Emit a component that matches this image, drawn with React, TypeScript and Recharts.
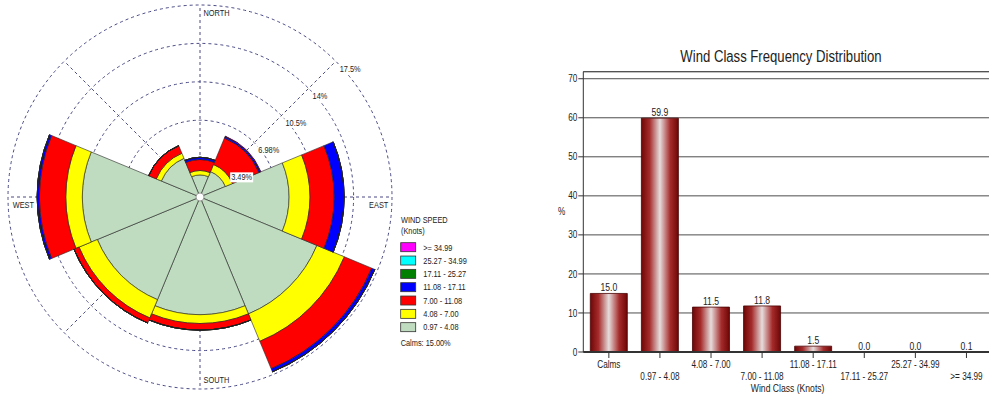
import React from 'react'
import {
  RadialBarChart,
  RadialBar,
  PolarGrid,
  PolarAngleAxis,
  PolarRadiusAxis,
  Legend,
  ComposedChart,
  Bar,
  Line,
  XAxis,
  YAxis,
  CartesianGrid,
  ReferenceLine,
  LabelList,
} from 'recharts'

// --- wind rose -----------------------------------------------------------

const directions = ['N', 'NE', 'E', 'SE', 'S', 'SW', 'W', 'NW']
const cardinalNames: Record<string, string> = { N: 'NORTH', E: 'EAST', S: 'SOUTH', W: 'WEST' }

const speedClasses = ['0.97 - 4.08', '4.08 - 7.00', '7.00 - 11.08', '11.08 - 17.11', '17.11 - 25.27', '25.27 - 34.99', '>= 34.99']
const speedColors = ['#c0dcc0', '#ffff00', '#ff0000', '#0000ff', '#008000', '#00ffff', '#ff00ff']

// % of all hours by direction (N, NE, E, SE, S, SW, W, NW) for each speed class
const speed0097 = [2.0, 2.5, 8.1, 11.5, 10.7, 10.1, 10.7, 3.8]
const speed0408 = [0.4, 0.7, 1.9, 2.7, 0.8, 1.8, 1.5, 0.5]
const speed0700 = [1.0, 2.6, 2.2, 2.7, 0.6, 0.5, 2.4, 0.75]
const speed1108 = [0.2, 0.15, 0.9, 0.3, 0, 0, 0.2, 0]
const speed1711 = [0, 0, 0, 0, 0, 0, 0, 0]
const speed2527 = [0, 0, 0, 0, 0, 0, 0, 0]
const speed3499 = [0, 0.05, 0, 0, 0, 0, 0, 0]
const speedByClass = [speed0097, speed0408, speed0700, speed1108, speed1711, speed2527, speed3499]

const ringMax = 17.45
const ringTicks = [0, 3.49, 6.98, 10.47, 13.96, 17.45]
const ringLabels = ['', '3.49%', '6.98%', '10.5%', '14%', '17.5%']

// --- class frequency -----------------------------------------------------

const windClasses = ['Calms', ...speedClasses]
const classPct = [15.0, 59.9, 11.5, 11.8, 1.5, 0.0, 0.0, 0.1]
const pctTicks = [0, 10, 20, 30, 40, 50, 60, 70]
const pctMinorTicks = [5, 15, 25, 35, 45, 55, 65]
const pctMax = 71.8

const sans = "Arial, 'Liberation Sans', sans-serif"
const squeeze = 0.82 // narrow face look

// sector width in degrees; N points up, directions run clockwise
const sectorDeg = 360 / directions.length
const dirAngle = (dir: string) => 90 - directions.indexOf(dir) * sectorDeg

const roseData = directions.map((dir, i) => {
  const row: Record<string, any> = { dir }
  speedByClass.forEach((arr, k) => {
    row['s' + k] = arr[i] > 0 ? arr[i] : null
  })
  return row
})

const classData = windClasses.map((name, i) => ({ name, pct: classPct[i] }))

function NarrowText({ x, y, size, anchor = 'start', fill = '#222', children }: any) {
  return (
    <g transform={`translate(${x},${y}) scale(${squeeze},1)`}>
      <text x={0} y={0} textAnchor={anchor} fontSize={size} fontFamily={sans} fill={fill}>
        {children}
      </text>
    </g>
  )
}

// angle-axis ticks sit on sector edges, so the cardinal names are put on the sector centres instead
function CompassTick(props: any) {
  const { cx, cy, radius, payload } = props
  const name = cardinalNames[payload.value]
  if (!name) return null
  const a = (dirAngle(payload.value) * Math.PI) / 180
  const x = cx + radius * Math.cos(a)
  const y = cy - radius * Math.sin(a)
  if (name === 'EAST') return <NarrowText x={x - 3.7} y={y + 11.3} size={9} anchor="end">{name}</NarrowText>
  if (name === 'SOUTH') return <NarrowText x={x + 3.5} y={y - 5.7} size={9}>{name}</NarrowText>
  if (name === 'WEST') return <NarrowText x={x + 4.7} y={y + 11.3} size={9}>{name}</NarrowText>
  return <NarrowText x={x + 3.5} y={y + 10.7} size={9}>{name}</NarrowText>
}

function RingTick(props: any) {
  const { x, y, payload, index } = props
  if (payload.value === 0) {
    return <circle cx={x} cy={y} r={4} fill="#fff" stroke="#888" strokeWidth={0.8} />
  }
  const label = ringLabels[index] ?? ''
  const w = label.length * 4.2 + 2
  return (
    <g>
      <rect x={x + 3} y={y + 2.5} width={w} height={10} fill="#fff" />
      <NarrowText x={x + 4} y={y + 10.5} size={9}>{label}</NarrowText>
    </g>
  )
}

function RoseLegend() {
  const step = 13.33
  const order = speedClasses.map((_, k) => k).reverse()
  return (
    <svg width={90} height={140} style={{ display: 'block' }}>
      <NarrowText x={3} y={11.3} size={9}>WIND SPEED</NarrowText>
      <NarrowText x={3} y={22} size={9}>(Knots)</NarrowText>
      {order.map((k, row) => (
        <g key={k}>
          <rect x={2.7} y={30.7 + row * step} width={15} height={9} fill={speedColors[k]} stroke="#333" strokeWidth={0.8} />
          <NarrowText x={25.3} y={38.5 + row * step} size={9}>{speedClasses[k]}</NarrowText>
        </g>
      ))}
      <NarrowText x={2.7} y={134} size={9}>{`Calms: ${classPct[0].toFixed(2)}%`}</NarrowText>
    </svg>
  )
}

function ClassTick(props: any) {
  const { x, y, payload, index } = props
  return (
    <NarrowText x={x} y={y + (index % 2 === 0 ? 8 : 20)} size={10} anchor="middle">
      {payload.value}
    </NarrowText>
  )
}

function PctTick(props: any) {
  const { x, y, payload } = props
  return <NarrowText x={x} y={y + 3.6} size={10} anchor="end">{payload.value}</NarrowText>
}

function PctAxisLabel(props: any) {
  const vb = props.viewBox
  return <NarrowText x={vb.x + 28} y={vb.y + vb.height / 2 + 3.5} size={10}>%</NarrowText>
}

function ClassAxisLabel(props: any) {
  const vb = props.viewBox
  return <NarrowText x={vb.x + vb.width / 2} y={vb.y + vb.height - 3.5} size={10.5} anchor="middle">Wind Class (Knots)</NarrowText>
}

function ValueLabel(props: any) {
  const vb = props.viewBox || props
  const x = vb.x + (vb.width || 0) / 2
  return <NarrowText x={x} y={vb.y - 2} size={10.5} anchor="middle">{Number(props.value).toFixed(1)}</NarrowText>
}

export default function App() {
  return (
    <div style={{ position: 'relative', width: 989, height: 395, overflow: 'hidden', background: '#fff' }}>
      <style>{'body{margin:0}'}</style>

      <div style={{ position: 'absolute', left: 0, top: 0 }}>
        {/* recharts starts a centric band at its tick, so the first band begins half a sector east of north */}
        <RadialBarChart
          width={480}
          height={395}
          data={roseData}
          layout="centric"
          cx={200}
          cy={197}
          innerRadius={0}
          outerRadius={192}
          startAngle={90 - sectorDeg / 2}
          endAngle={90 - sectorDeg / 2 - 360}
          barCategoryGap="0%"
          margin={{ top: 0, right: 0, bottom: 0, left: 0 }}
        >
          <PolarGrid
            gridType="circle"
            polarAngles={directions.map(dirAngle)}
            stroke="#4a4a86"
            strokeDasharray="3 3"
          />
          {speedClasses.map((c, k) => (
            <RadialBar
              key={c}
              name={c}
              dataKey={'s' + k}
              stackId="rose"
              fill={speedColors[k]}
              stroke="#222"
              strokeWidth={0.6}
              isAnimationActive={false}
            />
          ))}
          <PolarAngleAxis dataKey="dir" type="category" axisLine={false} tickLine={false} tickSize={0} tick={CompassTick} />
          <PolarRadiusAxis
            type="number"
            angle={45}
            domain={[0, ringMax]}
            ticks={ringTicks}
            axisLine={false}
            tickLine={false}
            tick={RingTick}
          />
          <Legend
            layout="vertical"
            align="center"
            verticalAlign="middle"
            content={() => <RoseLegend />}
            wrapperStyle={{ left: 398, top: 212, width: 90 }}
          />
        </RadialBarChart>
      </div>

      <div
        style={{
          position: 'absolute',
          left: 581,
          top: 49,
          width: 400,
          textAlign: 'center',
          fontFamily: sans,
          fontSize: 16,
          lineHeight: '16px',
          color: '#222',
          transform: `scaleX(${squeeze})`,
          transformOrigin: 'center',
        }}
      >
        Wind Class Frequency Distribution
      </div>

      <div style={{ position: 'absolute', left: 530, top: 0 }}>
        <ComposedChart
          width={462}
          height={395}
          data={classData}
          barSize={37}
          margin={{ top: 71.7, right: 0, bottom: 0, left: 0 }}
        >
          <defs>
            <linearGradient id="tube" x1="0" y1="0" x2="1" y2="0">
              <stop offset="0%" stopColor="#6e0606" />
              <stop offset="22%" stopColor="#a52b2b" />
              <stop offset="50%" stopColor="#e6dcdc" />
              <stop offset="78%" stopColor="#a52b2b" />
              <stop offset="100%" stopColor="#6e0606" />
            </linearGradient>
          </defs>
          <CartesianGrid vertical={false} stroke="#4d4d4d" />
          <ReferenceLine y={pctMax} stroke="#4d4d4d" />
          <XAxis
            dataKey="name"
            interval={0}
            height={43}
            tickSize={6}
            stroke="#333"
            axisLine={{ stroke: '#333', strokeWidth: 2 }}
            tick={ClassTick}
            label={{ content: ClassAxisLabel }}
          />
          <XAxis xAxisId="inner" dataKey="name" mirror interval={0} height={0} tickSize={6} stroke="#333" axisLine={false} tick={false} />
          <YAxis
            width={53.3}
            domain={[0, pctMax]}
            ticks={pctTicks}
            tickSize={5}
            tickMargin={1}
            stroke="#333"
            tick={PctTick}
            label={{ content: PctAxisLabel }}
          />
          <YAxis yAxisId="minor" mirror width={0} domain={[0, pctMax]} ticks={pctMinorTicks} tickSize={3} stroke="#333" axisLine={false} tick={false} />
          <Bar dataKey="pct" fill="url(#tube)" stroke="#4a0404" strokeWidth={0.8} isAnimationActive={false} />
          <Line dataKey="pct" stroke="none" dot={false} activeDot={false} isAnimationActive={false}>
            <LabelList dataKey="pct" position="top" content={ValueLabel} />
          </Line>
        </ComposedChart>
      </div>
    </div>
  )
}
